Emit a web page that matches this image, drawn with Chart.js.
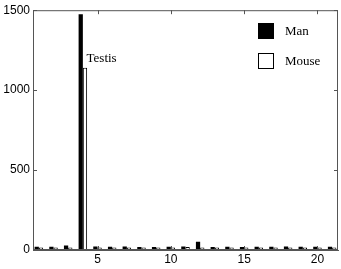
<!DOCTYPE html>
<html>
<head>
<meta charset="utf-8">
<script src="https://cdn.jsdelivr.net/npm/chart.js@4"></script>
<style>
  html, body { margin: 0; padding: 0; background: #fff; }
  #wrap { width: 341px; height: 269px; }
</style>
</head>
<body>
<div id="wrap"><canvas id="tissueChart" width="341" height="269"></canvas></div>
<script>
// tissue index 1..21, expression values
const tissues = [1, 2, 3, 4, 5, 6, 7, 8, 9, 10, 11, 12, 13, 14, 15, 16, 17, 18, 19, 20, 21];
const manValues = [20, 20, 28, 1475, 22, 20, 22, 18, 18, 20, 22, 52, 18, 20, 18, 20, 20, 22, 20, 20, 20];
const mouseValues = [15, 15, 15, 1140, 15, 15, 15, 15, 15, 15, 18, 15, 15, 15, 15, 15, 15, 15, 15, 15, 15];
const xTicks = [5, 10, 15, 20];
const yTicks = [0, 500, 1000, 1500];
const note = { label: 'Testis', x: 4.25, y: 1195 };

const axisColor = '#555';
const serif = '"Liberation Serif", "Times New Roman", serif';

// box around the plot + inward ticks, legend and the Testis note
const boxPlugin = {
    id: 'boxPlugin',
    afterDraw(chart) {
        const ctx = chart.ctx;
        const a = chart.chartArea;
        const xs = chart.scales.x;
        const ys = chart.scales.y;
        ctx.save();
        ctx.strokeStyle = axisColor;
        ctx.lineWidth = 1;
        ctx.strokeRect(a.left + 0.5, a.top + 0.5, a.right - a.left - 1, a.bottom - a.top - 1);
        ctx.beginPath();
        xTicks.forEach(v => {
            const px = Math.round(xs.getPixelForValue(v)) + 0.5;
            ctx.moveTo(px, a.bottom); ctx.lineTo(px, a.bottom - 4);
            ctx.moveTo(px, a.top); ctx.lineTo(px, a.top + 4);
        });
        yTicks.forEach(v => {
            const py = Math.round(ys.getPixelForValue(v)) + 0.5;
            ctx.moveTo(a.left, py); ctx.lineTo(a.left + 4, py);
            ctx.moveTo(a.right, py); ctx.lineTo(a.right - 4, py);
        });
        ctx.stroke();

        // legend inside top right
        ctx.font = '13px ' + serif;
        ctx.textBaseline = 'middle';
        ctx.textAlign = 'left';
        chart.data.datasets.forEach((ds, i) => {
            const bx = 258, by = 23 + i * 30;
            ctx.fillStyle = ds.backgroundColor;
            ctx.fillRect(bx, by, 16, 16);
            ctx.strokeStyle = ds.borderColor;
            ctx.lineWidth = 1;
            ctx.strokeRect(bx + 0.5, by + 0.5, 15, 15);
            ctx.fillStyle = '#000';
            ctx.fillText(ds.label, bx + 27, by + 9);
        });

        ctx.fillStyle = '#000';
        ctx.fillText(note.label, xs.getPixelForValue(note.x), ys.getPixelForValue(note.y));
        ctx.restore();
    }
};

new Chart(document.getElementById('tissueChart'), {
    type: 'bar',
    data: {
        labels: tissues,
        datasets: [{
            label: 'Man',
            data: tissues.map((t, i) => ({ x: t, y: manValues[i] })),
            backgroundColor: '#000',
            borderColor: '#000',
            borderWidth: 0
        }, {
            label: 'Mouse',
            data: tissues.map((t, i) => ({ x: t, y: mouseValues[i] })),
            backgroundColor: '#fff',
            borderColor: '#000',
            borderWidth: 1
        }]
    },
    options: {
        responsive: false,
        animation: false,
        categoryPercentage: 0.58,
        barPercentage: 1,
        layout: { padding: { top: 10, right: 3, left: 0, bottom: 0 } },
        plugins: { legend: { display: false }, tooltip: { enabled: false } },
        scales: {
            x: {
                type: 'linear',
                offset: false,
                min: 0.6,
                max: 21.4,
                grid: { display: false, drawTicks: false },
                border: { display: true, color: axisColor },
                afterBuildTicks: s => { s.ticks = xTicks.map(v => ({ value: v })); },
                afterFit: s => { s.height = 19; },
                ticks: {
                    padding: 2,
                    color: '#000',
                    font: { family: '"Liberation Sans", Arial, sans-serif', size: 12 },
                    maxRotation: 0,
                    callback: v => String(v)
                }
            },
            y: {
                min: 0,
                max: 1500,
                grid: { display: false, drawTicks: false },
                border: { display: true, color: axisColor },
                afterBuildTicks: s => { s.ticks = yTicks.map(v => ({ value: v })); },
                afterFit: s => { s.width = 33; },
                ticks: {
                    padding: 3,
                    color: '#000',
                    font: { family: '"Liberation Sans", Arial, sans-serif', size: 12 },
                    callback: v => String(v)
                }
            }
        }
    },
    plugins: [boxPlugin]
});
</script>
</body>
</html>
